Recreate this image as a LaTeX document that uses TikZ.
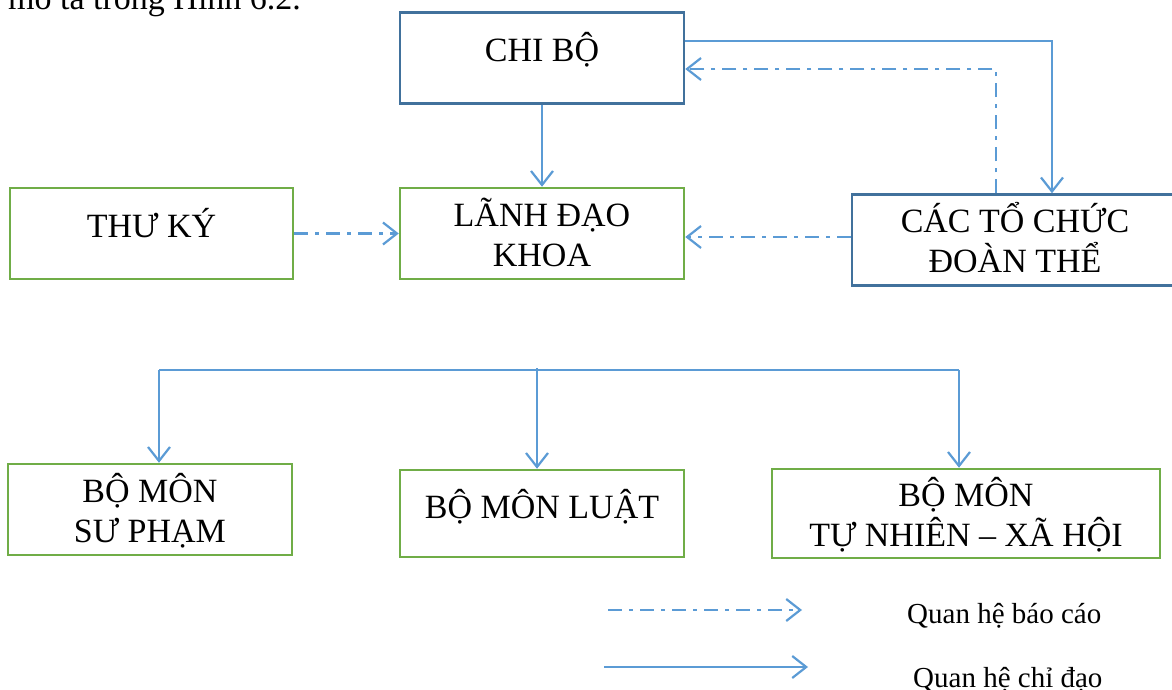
\documentclass[tikz,border=0pt]{standalone}
\usepackage{fontspec}
\setmainfont{Liberation Serif}
\usetikzlibrary{arrows.meta, positioning}

\definecolor{linkblue}{HTML}{5B9BD5}
\definecolor{boxblue}{HTML}{41719C}
\definecolor{boxgreen}{HTML}{70AD47}

\begin{document}
\begin{tikzpicture}[x=1pt, y=-1pt, >={Straight Barb[length=14pt, width=22pt]},
  box/.style={draw, line width=2.5pt, minimum height=91pt, align=center, text height=25pt, font=\fontsize{34}{40}\selectfont},
  twoline/.style={box, text height=65pt},
  lead/.style={->, draw=linkblue, line width=2.2pt},
  report/.style={lead, dash pattern=on 14pt off 7pt on 4pt off 7pt}]

\useasboundingbox (0,0) rectangle (1172,690);

% Nodes
\node (intro) [anchor=base west, inner sep=0pt, font=\fontsize{34}{40}\selectfont] at (8,10) {mô tả trong Hình 6.2.};
\node (cb) [box, draw=boxblue, minimum width=284pt, text depth=17pt] at (542,58) {CHI BỘ};
\node (tk) [box, draw=boxgreen, minimum width=283pt, text depth=18pt] at (151.5,233.5) {THƯ KÝ};
\node (ld) [twoline, draw=boxgreen, minimum width=284pt, text depth=-18pt] at (542,233.5) {LÃNH ĐẠO\\KHOA};
\node (ct) [twoline, draw=boxblue, minimum width=326pt, text depth=-11pt] at (1015,240) {CÁC TỔ CHỨC\\ĐOÀN THỂ};
\node (sp) [twoline, draw=boxgreen, minimum width=284pt, text depth=-16pt] at (150,509.5) {BỘ MÔN\\SƯ PHẠM};
\node (lu) [box, draw=boxgreen, minimum width=284pt, minimum height=87pt, text depth=16pt] at (542,513.5) {BỘ MÔN LUẬT};
\node (tn) [twoline, draw=boxgreen, minimum width=388pt, minimum height=89pt, text depth=-14pt] at (966,513.5) {BỘ MÔN\\TỰ NHIÊN – XÃ HỘI};

% Legend
\node (kbc) [anchor=base west, inner sep=0pt, font=\fontsize{29}{34}\selectfont] at (907,623) {Quan hệ báo cáo};
\node (kcd) [anchor=base west, inner sep=0pt, font=\fontsize{29}{34}\selectfont] at (913,687) {Quan hệ chỉ đạo};
\coordinate (r1) at (608,610);
\coordinate (r2) at (802,610);
\coordinate (d1) at (604,667);
\coordinate (d2) at (808,667);

% Bus
\coordinate (busL) at (159,370);
\coordinate (busM) at (537,368);
\coordinate (busR) at (959,370);

% Arrows
\draw[lead] (cb) -- (ld);
\draw[lead] ([yshift=17pt]cb.east) -| ([xshift=37pt]ct.north);
\draw[report] ([xshift=-19pt]ct.north) |- ([yshift=-11pt]cb.east);
\draw[report] (tk) -- (ld);
\draw[report] ([yshift=3pt]ct.west) -- ([yshift=-3.5pt]ld.east);
\draw[linkblue, line width=2.2pt] (busL) -- (busR);
\draw[lead] (busL) -- (busL |- sp.north);
\draw[lead] (busM) -- (busM |- lu.north);
\draw[lead] (busR) -- (busR |- tn.north);
\draw[report] (r1) -- (r2);
\draw[lead] (d1) -- (d2);

\end{tikzpicture}
\end{document}
